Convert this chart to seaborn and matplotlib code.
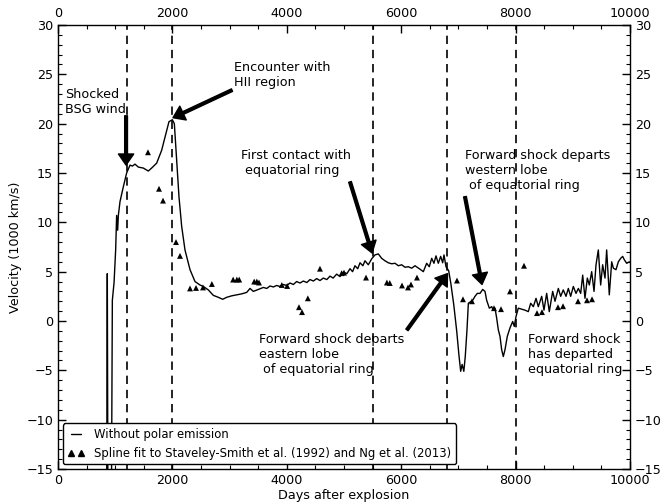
import matplotlib
matplotlib.use("Agg")
import matplotlib.pyplot as plt
from matplotlib.lines import Line2D
from matplotlib.ticker import MultipleLocator
import seaborn as sns
import pandas as pd

# Simulated expansion velocity (without polar emission)
model_days = [845, 862, 878, 925, 950, 980, 1008, 1025, 1043, 1055, 1084, 1142, 1200,
              1259, 1300, 1346, 1404, 1492, 1579, 1637, 1725, 1812, 1888, 1940, 1999,
              2034, 2075, 2115, 2162, 2220, 2308, 2395, 2482, 2541, 2628, 2715, 2803,
              2879, 2949, 3036, 3124, 3211, 3299, 3357, 3415, 3502, 3590, 3650, 3706,
              3765, 3823, 3880, 3939, 4000, 4056, 4115, 4172, 4230, 4289, 4350, 4406,
              4465, 4522, 4580, 4638, 4700, 4755, 4810, 4872, 4930, 4988, 5050, 5105,
              5150, 5192, 5240, 5280, 5330, 5367, 5425, 5484, 5542, 5600, 5659, 5717,
              5775, 5833, 5892, 5950, 6008, 6066, 6125, 6183, 6241, 6329, 6387, 6445,
              6491, 6533, 6573, 6608, 6649, 6690, 6725, 6748, 6783, 6830, 6868, 6920,
              6970, 7010, 7040, 7065, 7095, 7120, 7150, 7174, 7250, 7290, 7331, 7378,
              7425, 7465, 7494, 7541, 7582, 7610, 7640, 7669, 7698, 7727, 7756, 7785,
              7815, 7855, 7902, 7949, 7977, 8007, 8047, 8106, 8164, 8222, 8264, 8310,
              8357, 8397, 8456, 8496, 8543, 8589, 8648, 8689, 8747, 8788, 8834, 8881,
              8922, 8963, 9009, 9056, 9097, 9138, 9173, 9213, 9254, 9289, 9330, 9371,
              9406, 9446, 9487, 9522, 9563, 9592, 9638, 9680, 9709, 9755, 9796, 9837,
              9872, 9901, 9942, 9988]
model_vel = [-30, 4.8, -30, -30, 2.1, 3.9, 7.2, 10.7, 9.2, 10.7, 12.1, 13.6, 15.0,
             15.8, 15.7, 15.9, 15.6, 15.5, 15.2, 15.5, 16.0, 17.3, 19.0, 20.2, 20.4,
             20.0, 16.3, 12.6, 9.6, 7.2, 5.2, 4.0, 3.65, 3.5, 3.15, 2.6, 2.4,
             2.2, 2.4, 2.55, 2.65, 2.75, 2.9, 3.3, 3.0, 3.2, 3.4, 3.3, 3.55,
             3.45, 3.6, 3.5, 3.7, 3.6, 3.85, 3.7, 4.0, 3.85, 4.05, 3.9, 4.2,
             4.05, 4.3, 4.1, 4.35, 4.2, 4.55, 4.35, 4.75, 4.5, 4.95, 4.8, 5.3,
             5.0, 5.6, 5.3, 5.9, 5.6, 6.1, 5.7, 6.3, 6.7, 6.8, 6.35, 6.1,
             5.9, 5.8, 5.85, 5.6, 5.7, 5.45, 5.5, 5.35, 5.6, 5.25, 5.0, 5.85,
             5.5, 6.35, 5.85, 6.6, 5.85, 6.55, 5.9, 6.7, 5.5, 5.1, 3.8, 1.6,
             -1.0, -3.5, -5.1, -4.4, -5.1, -3.6, -0.9, 1.8, 2.1, 2.5, 2.8, 2.8,
             3.2, 3.0, 2.1, 1.3, 1.45, 1.1, 1.3, 0.3, -0.9, -1.55, -2.9, -3.6,
             -2.9, -1.55, -0.7, -0.05, -0.55, 0.45, 1.3, 1.2, 1.1, 0.95, 1.8, 1.45,
             2.3, 1.45, 2.5, 1.1, 2.8, 0.95, 3.0, 2.0, 3.3, 2.5, 3.15, 2.5,
             3.3, 2.5, 3.5, 2.8, 3.3, 2.8, 4.65, 2.3, 4.35, 3.65, 5.0, 3.0,
             5.7, 7.2, 3.65, 5.7, 4.35, 7.2, 2.65, 6.0, 5.35, 5.2, 6.0, 6.35,
             6.55, 6.2, 5.85, 6.0]

# Spline fit to the observed expansion velocities
obs_days = [1573, 1766, 1836, 2063, 2133, 2308, 2413, 2535, 2690, 3062, 3127, 3168,
            3430, 3476, 3514, 3913, 4006, 4213, 4266, 4368, 4580, 4959, 5000, 5385,
            5750, 5800, 6014, 6119, 6171, 6276, 6975, 7080, 7237, 7622, 7745, 7902,
            8147, 8374, 8461, 8741, 8829, 9091, 9248, 9336]
obs_vel = [17.1, 13.4, 12.2, 8.0, 6.6, 3.3, 3.35, 3.4, 3.75, 4.2, 4.2, 4.2,
           4.0, 4.0, 3.9, 3.65, 3.55, 1.4, 0.9, 2.3, 5.3, 4.85, 4.9, 4.4,
           3.9, 3.85, 3.6, 3.4, 3.7, 4.4, 4.1, 2.2, 2.0, 1.3, 1.2, 3.0,
           5.6, 0.8, 0.9, 1.4, 1.5, 2.0, 2.1, 2.2]

# Epochs of the key interactions
event_days = [1200, 2000, 5500, 6800, 8000]

model = pd.DataFrame({"day": model_days, "vel": model_vel})
obs = pd.DataFrame({"day": obs_days, "vel": obs_vel})

sns.set_style("ticks")
plt.rcParams["font.family"] = ["DejaVu Sans"]
plt.rcParams["font.size"] = 9.2
for key in ("text.color", "axes.labelcolor", "xtick.color", "ytick.color",
            "axes.edgecolor"):
    plt.rcParams[key] = "black"

FS = 9.2

fig = plt.figure(figsize=(6.63, 5.04), dpi=100)
ax = fig.add_axes([58 / 663, 1 - 469 / 504, 572 / 663, 444 / 504])

sns.lineplot(data=model, x="day", y="vel", ax=ax, color="black", lw=1.0,
             sort=False, estimator=None)
sns.scatterplot(data=obs, x="day", y="vel", ax=ax, color="black", marker="^",
                s=18, edgecolor="none")

for d in event_days:
    ax.axvline(d, color="black", lw=1.2, ls=(0, (5, 3.5)), zorder=1)

ax.set_xlim(0, 10000)
ax.set_ylim(-15, 30)
ax.xaxis.set_major_locator(MultipleLocator(2000))
ax.xaxis.set_minor_locator(MultipleLocator(500))
ax.yaxis.set_major_locator(MultipleLocator(5))
ax.yaxis.set_minor_locator(MultipleLocator(1))
ax.tick_params(which="both", direction="in", top=True, right=True,
               labeltop=True, labelright=True, labelsize=FS, color="black",
               labelcolor="black")
ax.tick_params(which="major", length=6, width=1)
ax.tick_params(which="minor", length=3, width=0.8)
for sp in ax.spines.values():
    sp.set_color("black")
    sp.set_linewidth(1.0)

ax.set_xlabel("Days after explosion", fontsize=FS, labelpad=1.5)
ax.set_ylabel("Velocity (1000 km/s)", fontsize=FS, labelpad=3)

arrow = dict(facecolor="black", edgecolor="black", width=2, headwidth=11,
             headlength=8, shrink=0)

ax.text(120, 23.6, "Shocked\nBSG wind", ha="left", va="top", fontsize=FS)
ax.annotate("", xy=(1190, 15.8), xytext=(1190, 20.8), arrowprops=arrow)

ax.text(3077, 26.4, "Encounter with\nHII region", ha="left", va="top", fontsize=FS)
ax.annotate("", xy=(2010, 20.6), xytext=(3042, 23.4), arrowprops=arrow)

ax.text(3199, 17.4, "First contact with\n equatorial ring", ha="left", va="top",
        fontsize=FS)
ax.annotate("", xy=(5490, 6.9), xytext=(5105, 14.1), arrowprops=arrow)

ax.text(7115, 17.4, "Forward shock departs\nwestern lobe\n of equatorial ring",
        ha="left", va="top", fontsize=FS)
ax.annotate("", xy=(7413, 3.7), xytext=(7115, 12.6), arrowprops=arrow)

ax.text(3514, -1.2, "Forward shock departs\neastern lobe\n of equatorial ring",
        ha="left", va="top", fontsize=FS)
ax.annotate("", xy=(6810, 4.8), xytext=(6101, -0.9), arrowprops=arrow)

ax.text(8217, -1.2, "Forward shock\nhas departed\nequatorial ring",
        ha="left", va="top", fontsize=FS)

handles = [
    Line2D([], [], color="black", lw=1.0),
    Line2D([], [], color="black", ls="", marker="^", markersize=4.2),
]
labels = ["Without polar emission",
          "Spline fit to Staveley-Smith et al. (1992) and Ng et al. (2013)"]
leg = ax.legend(handles, labels, loc="lower left", numpoints=2, fontsize=8.4,
                handlelength=1.5, frameon=True, fancybox=True, borderaxespad=0.4,
                labelspacing=0.5)
leg.get_frame().set_edgecolor("black")
leg.get_frame().set_linewidth(1.0)
leg.get_frame().set_alpha(1.0)

fig.savefig("out.png", dpi=100)
